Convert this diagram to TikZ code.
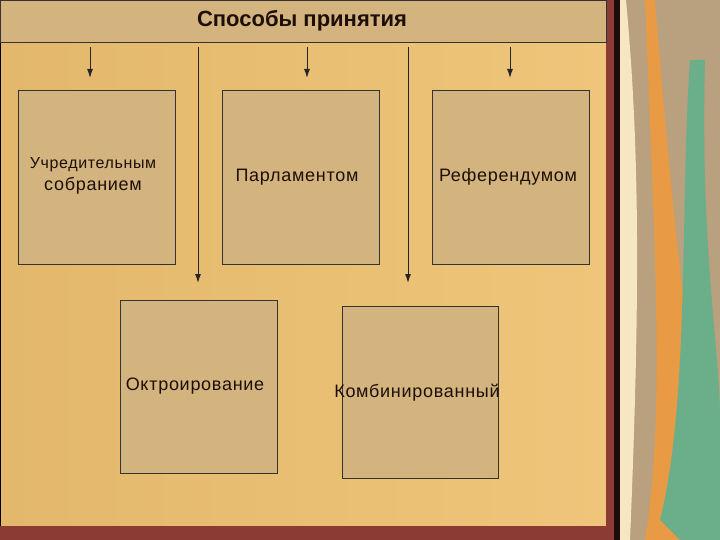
\documentclass[tikz,border=0pt]{standalone}
\usepackage{fontspec}
\setmainfont{Liberation Sans}
\newfontfamily\spaced[LetterSpace=4]{Liberation Sans}
\usetikzlibrary{arrows.meta}
\begin{document}
\begin{tikzpicture}[x=1pt,y=-1pt,
  box/.style={draw=black!80,fill=boxfill,line width=0.8pt},
  lbl/.style={font=\spaced\fontsize{18}{21}\selectfont,text=txt,align=center},
  arr/.style={draw=black!85,line width=1pt,-{Latex[length=9pt,width=6pt]}}]
\definecolor{boxfill}{HTML}{D3B47E}
\definecolor{txt}{HTML}{1E0E08}
\definecolor{bgA}{HTML}{E3B86C}
\definecolor{bgB}{HTML}{EEC57A}
\definecolor{maroon}{HTML}{8C3A34}
\definecolor{panel}{HTML}{B9A07E}
\definecolor{cream}{HTML}{F6E7C2}
\definecolor{grn}{HTML}{6BAE8A}
\definecolor{org}{HTML}{E89A45}
\useasboundingbox (0,0) rectangle (720,540);
\shade[left color=bgA,right color=bgB] (0,0) rectangle (606,526);
\fill[maroon] (606,0) rectangle (620,540);
\fill[maroon] (0,526) rectangle (620,540);
\fill[black!80!maroon] (614,0) rectangle (620,540);
\fill[cream] (620,0) rectangle (626,540);
\fill[panel] (626,0) rectangle (720,540);
\fill[org] (645,540) .. controls (665,420) and (655,250) .. (645,0) -- (655,0) .. controls (675,250) and (695,420) .. (720,540) -- cycle;
\fill[grn] (660,520) .. controls (690,400) and (680,200) .. (690,60) -- (705,60) .. controls (700,250) and (720,350) .. (720,420) -- (720,540) -- (680,540) -- cycle;
\fill[cream] (626,0) .. controls (640,150) and (640,300) .. (630,540) -- (626,540) -- cycle;
\draw[line width=0.8pt] (0,0) -- (0,526);
\node[box,minimum width=606pt,minimum height=42pt,anchor=north west,inner sep=0pt] (t) at (0,0) {};
\node[font=\bfseries\fontsize{22}{24}\selectfont,text=txt] (tt) at (302,21) {Способы принятия};
\node[box,minimum width=157pt,minimum height=174pt,anchor=north west] (a) at (18,90) {};
\node[box,minimum width=157pt,minimum height=174pt,anchor=north west] (b) at (222,90) {};
\node[box,minimum width=157pt,minimum height=174pt,anchor=north west] (c) at (432,90) {};
\node[box,minimum width=157pt,minimum height=173pt,anchor=north west] (d) at (120,300) {};
\node[box,minimum width=156pt,minimum height=172pt,anchor=north west] (e) at (342,306) {};
\node[lbl,font=\spaced\fontsize{16}{19}\selectfont] (la) at (93,176) {Учредительным\\[3pt]{\fontsize{18}{21}\selectfont собранием}};
\node[lbl] (lb) at (297,177) {Парламентом};
\node[lbl] (lc) at (508,177) {Референдумом};
\node[lbl] (ld) at (195,386) {Октроирование};
\node[lbl] (le) at (417,393) {Комбинированный};
\coordinate (s1) at (90,47); \coordinate (e1) at (90,78);
\coordinate (s2) at (307,47); \coordinate (e2) at (307,78);
\coordinate (s3) at (510,47); \coordinate (e3) at (510,78);
\coordinate (s4) at (198,47); \coordinate (e4) at (198,283);
\coordinate (s5) at (408,47); \coordinate (e5) at (408,283);
\draw[arr] (s1) -- (e1);
\draw[arr] (s2) -- (e2);
\draw[arr] (s3) -- (e3);
\draw[arr] (s4) -- (e4);
\draw[arr] (s5) -- (e5);
\end{tikzpicture}
\end{document}
